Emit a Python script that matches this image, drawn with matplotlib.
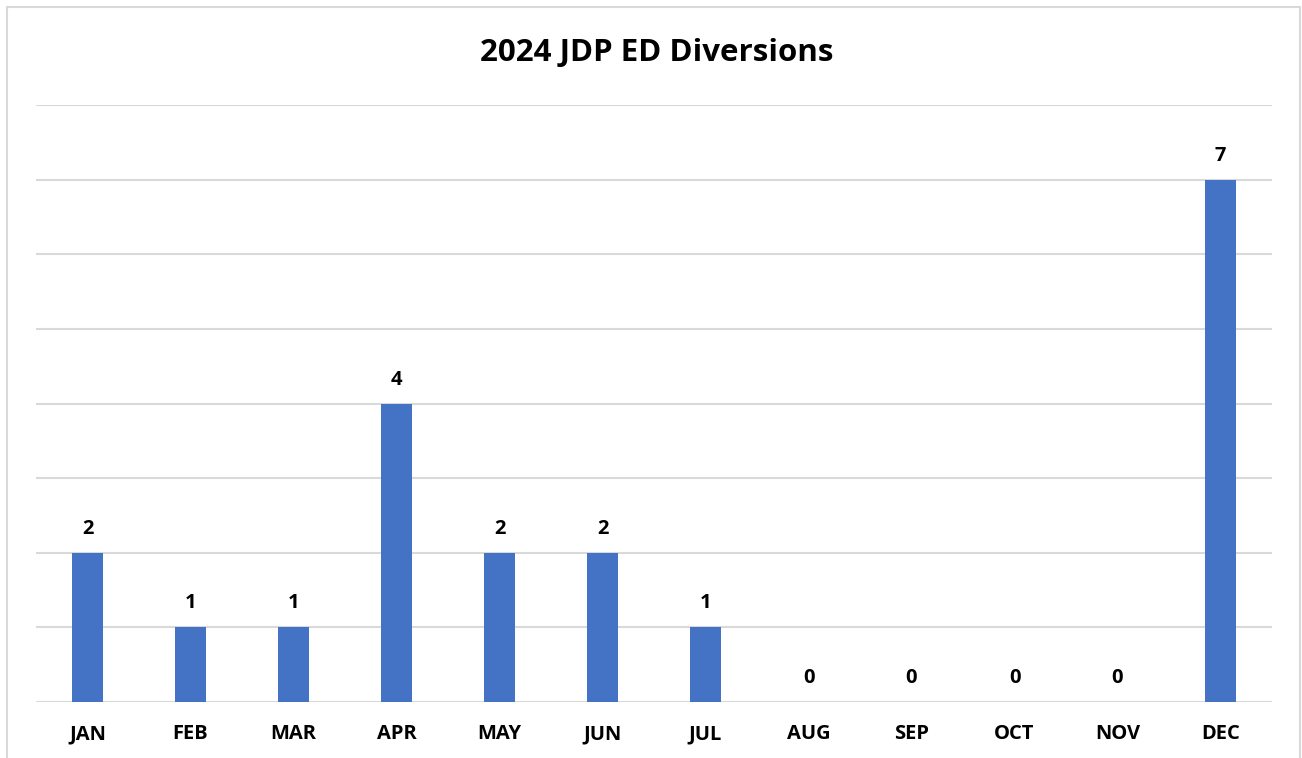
import matplotlib.pyplot as plt
from matplotlib.patches import Rectangle

# data
months = ["JAN", "FEB", "MAR", "APR", "MAY", "JUN", "JUL", "AUG", "SEP", "OCT", "NOV", "DEC"]
diversions = [2, 1, 1, 4, 2, 2, 1, 0, 0, 0, 0, 7]

plt.rcParams['font.family'] = ['Open Sans', 'DejaVu Sans']

fig = plt.figure(figsize=(13.02, 7.58), dpi=100)
ax = fig.add_axes([36 / 1302, 1 - 702 / 758, (1272 - 36) / 1302, (702 - 105) / 758])

x = range(len(months))
bars = ax.bar(x, diversions, width=0.31, color="#4472C4", zorder=3)

for xi, v in zip(x, diversions):
    ax.annotate(str(v), (xi, v), xytext=(0, 10), textcoords="offset points",
                ha="center", va="bottom", fontsize=14.5, fontweight="bold")

ax.set_xlim(-0.5, len(months) - 0.5)
ax.set_ylim(0, 8)
ax.set_yticks(range(0, 9))
ax.set_yticklabels([])
ax.tick_params(axis="y", length=0)
ax.set_xticks(list(x))
ax.set_xticklabels(months, fontsize=14.5, fontweight="bold")
ax.tick_params(axis="x", length=0, pad=16)
ax.grid(axis="y", color="#d9d9d9", linewidth=1.5, zorder=0)
for s in ax.spines.values():
    s.set_visible(False)

fig.text(657 / 1302, 1 - 53 / 758, "2024 JDP ED Diversions", ha="center", va="center",
         fontsize=22.5, fontweight="bold")

# light frame around the chart
fig.patches.append(Rectangle((7 / 1302, -0.05), (1300 - 7) / 1302, 1.05 - 7 / 758,
                             transform=fig.transFigure, fill=False,
                             edgecolor="#d9d9d9", linewidth=1.5))

fig.savefig("out.png", dpi=100)
